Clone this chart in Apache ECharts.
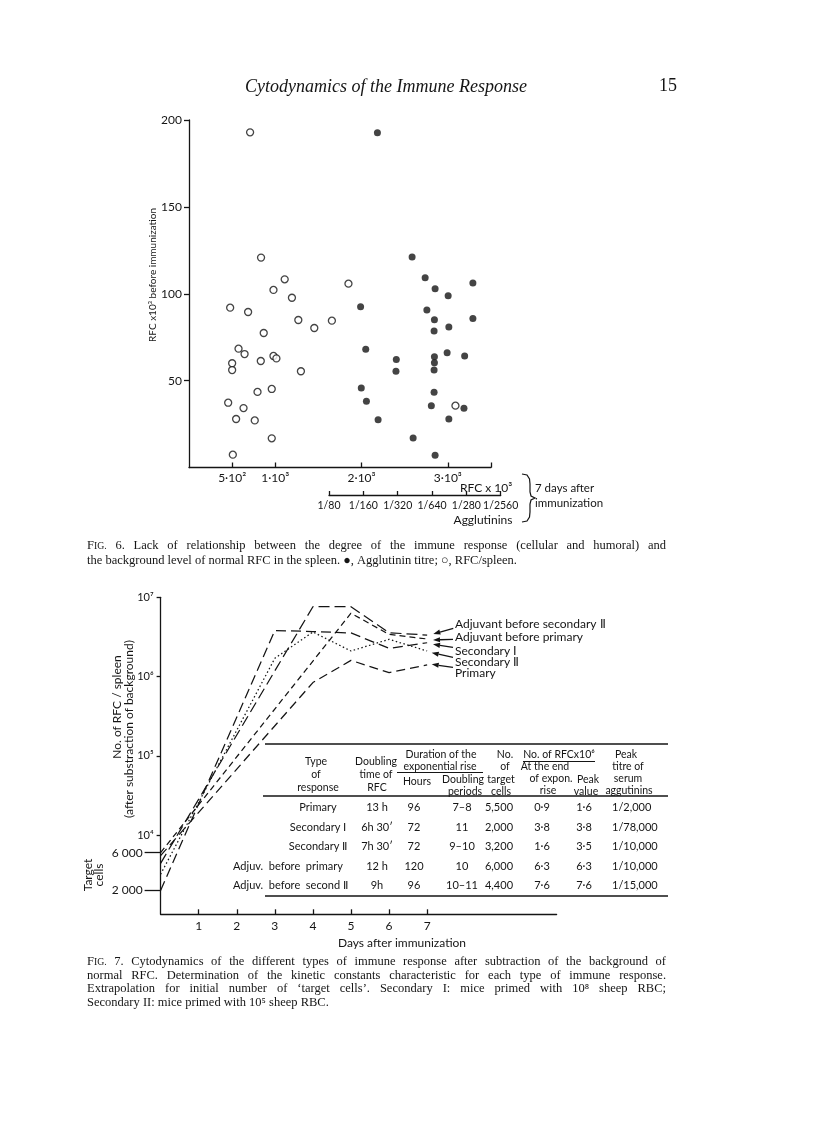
<!DOCTYPE html>
<html><head><meta charset="utf-8">
<script src="https://cdn.jsdelivr.net/npm/echarts@6/dist/echarts.min.js"></script>
<style>html,body{margin:0;padding:0;background:#fff}#c{width:816px;height:1128px}</style>
</head><body><div id="c"></div>
<script>
// ---------------- Fig. 6 data ----------------
// open circles: RFC/spleen 7 days after immunization (x) vs RFC x10^3 before immunization (y)
const fig6RfcX = [708,835,1109,979,1193,477,685,1267,1656,1452,866,574,644,500,500,832,979,1013,1297,959,794,454,632,546,762,959,508,1848,3088];
const fig6RfcY = [192.9,120.8,108.3,102.2,97.7,92.0,89.5,84.9,84.5,80.3,77.4,68.4,65.3,60.0,56.1,61.3,64.2,62.8,55.4,45.2,43.5,37.3,34.2,27.9,27.1,16.8,7.4,105.8,35.6];
// filled dots: agglutinin titre (x, in doubling steps from 1/80) vs RFC x10^3 before immunization (y)
const fig6AggX = [1.41,2.42,2.80,3.09,3.47,4.19,0.92,2.85,3.07,4.19,3.49,3.06,1.07,1.96,3.44,3.95,3.07,3.07,1.95,3.06,0.94,1.09,3.06,2.98,3.93,1.43,3.49,2.45,3.09];
const fig6AggY = [192.7,121.2,109.2,102.9,98.9,106.2,92.5,90.6,85.1,85.7,80.9,78.6,68.0,62.1,66.1,64.2,63.8,60.3,55.4,56.1,45.8,38.1,43.3,35.6,34.1,27.5,27.9,17.0,7.0];
const rfcTickValues = [500,1000,2000,3000];
const rfcTickLabels = ['5·10²','1·10³','2·10³','3·10³'];
const aggTickValues = [0,1,2,3,4,5];
const aggTickLabels = ['1/80','1/160','1/320','1/640','1/280','1/2560'];
const fig6YTicks = [50,100,150,200];

// ---------------- Fig. 7 data ----------------
const dayTicks = [1,2,3,4,5,6,7];
const logTicks = [1e4,1e5,1e6,1e7];
const logTickLabels = ['10⁴','10⁵','10⁶','10⁷'];
const targetTicks = [2000,6000];
const targetTickLabels = ['2 000','6 000'];
const primaryDays = [0,4,5,6,7];        const primaryRFC = [5500,840000,1600000,1120000,1400000];
const sec1Days = [0,3,4,5,6,7];         const sec1RFC = [2000,3800000,3700000,3550000,2270000,2670000];
const sec2Days = [0,3,4,5,6,7];         const sec2RFC = [3200,1700000,3650000,2100000,2950000,2100000];
const adjPrimDays = [0,5,6,7];          const adjPrimRFC = [6000,6300000,3400000,2980000];
const adjSec2Days = [0,4,5,6,7];        const adjSec2RFC = [4400,7600000,7600000,3570000,3340000];
const legendNames = ['Adjuvant before secondary Ⅱ','Adjuvant before primary','Secondary Ⅰ','Secondary Ⅱ','Primary'];

// table
const tblType = ['Primary','Secondary Ⅰ','Secondary Ⅱ','Adjuv.  before  primary','Adjuv.  before  second Ⅱ'];
const tblDoubling = ['13 h','6h 30ʹ','7h 30ʹ','12 h','9h'];
const tblHours = ['96','72','72','120','96'];
const tblPeriods = ['7–8','11','9–10','10','10–11'];
const tblTarget = ['5,500','2,000','3,200','6,000','4,400'];
const tblEndRise = ['0·9','3·8','1·6','6·3','7·6'];
const tblPeak = ['1·6','3·8','3·5','6·3','7·6'];
const tblTitre = ['1/2,000','1/78,000','1/10,000','1/10,000','1/15,000'];

const INK = '#151515';
const SANS = 'Lato';
const SERIF = 'Liberation Serif';

const mctx = document.createElement('canvas').getContext('2d');
function measure(s, size, fam, style){ mctx.font = (style||'normal') + ' ' + size + 'px "' + (fam||SERIF) + '"'; return mctx.measureText(s).width; }

function T(x, y, text, o){
  o = o || {};
  return {type:'text', x:x, y:y, rotation:o.rot||0, z:10,
    style:{text:text, fill:INK, fontFamily:o.fam||SANS, fontSize:o.size||11, fontStyle:o.style||'normal',
      align:o.align||'center', verticalAlign:'middle'}};
}
function L(x1,y1,x2,y2,w){ return {type:'line', z:10, shape:{x1:x1,y1:y1,x2:x2,y2:y2}, style:{stroke:INK, lineWidth:w||1.2}}; }
function arrow(x1,y1,x2,y2){
  const dx=x2-x1, dy=y2-y1, len=Math.hypot(dx,dy), ux=dx/len, uy=dy/len, hl=7, hw=2.6;
  const bx=x2-ux*hl, by=y2-uy*hl;
  return [L(x1,y1,bx,by,1.3), {type:'polygon', z:10, shape:{points:[[x2,y2],[bx-uy*hw,by+ux*hw],[bx+uy*hw,by-ux*hw]]}, style:{fill:INK}}];
}
function captionLine(line, x0, x1, y, size, justify){
  const words = line.split(' ');
  const widths = words.map(w => w==='FIG.' ? measure('F',size)+measure('IG.',size*0.78) : measure(w,size));
  const total = widths.reduce((a,b)=>a+b,0);
  const gap = (justify && words.length>1) ? (x1-x0-total)/(words.length-1) : measure(' ',size);
  let x = x0; const els = [];
  words.forEach((w,i)=>{
    if (w==='FIG.') {
      els.push({type:'text', x:x, y:y, z:10, style:{text:'{a|F}{b|IG.}', align:'left', verticalAlign:'middle',
        rich:{a:{fontFamily:SERIF,fontSize:size,fill:INK}, b:{fontFamily:SERIF,fontSize:size*0.78,fill:INK}}}});
    } else {
      els.push({type:'text', x:x, y:y, z:10, style:{text:w, fill:INK, fontFamily:SERIF, fontSize:size, align:'left', verticalAlign:'middle'}});
    }
    x += widths[i] + gap;
  });
  return els;
}

const g = [];
// page header
g.push(T(245, 87, 'Cytodynamics of the Immune Response', {fam:SERIF, size:18, style:'italic', align:'left'}));
g.push(T(659, 86, '15', {fam:SERIF, size:18, align:'left'}));

// Fig 6 annotations
g.push(T(153, 275, 'RFC x10³ before immunization', {size:10, rot:Math.PI/2}));
g.push(T(460, 488, 'RFC x 10³', {size:12, align:'left'}));
g.push(T(483, 520, 'Agglutinins', {size:12}));
g.push({type:'polyline', z:10, shape:{points:[[522,474],[527,475],[529.5,479],[530,484],[530,492],[531,496],[535,498],[531,500],[530,504],[530,512],[529.5,517],[527,521],[522,522]]}, style:{stroke:INK, fill:null, lineWidth:1.2}});
g.push(T(535, 488, '7 days after', {size:11.5, align:'left'}));
g.push(T(535, 503, 'immunization', {size:11.5, align:'left'}));
captionLine('FIG. 6. Lack of relationship between the degree of the immune response (cellular and humoral) and', 87, 666, 546, 12.5, true).forEach(e=>g.push(e));
captionLine('the background level of normal RFC in the spleen. ●, Agglutinin titre; ○, RFC/spleen.', 87, 666, 561, 12.5, false).forEach(e=>g.push(e));

// Fig 7 annotations
g.push(T(117, 707, 'No. of RFC / spleen', {size:12, rot:Math.PI/2}));
g.push(T(129, 729, '(after substraction of background)', {size:12, rot:Math.PI/2}));
g.push(T(88, 875, 'Target', {size:12, rot:Math.PI/2}));
g.push(T(99, 875, 'cells', {size:12, rot:Math.PI/2}));
g.push(T(402, 943, 'Days after immunization', {size:12}));
const legY = [624.3, 637.3, 650.7, 661.7, 673.3];
legendNames.forEach((n,i)=>g.push(T(455, legY[i], n, {size:12, align:'left'})));
[[453.3,628.3,433.3,634],[453,639.3,433,640],[453,647.3,433,644.3],[453,657.3,431.7,652.7],[453,667.3,431.7,664.3]]
  .forEach(a=>arrow(a[0],a[1],a[2],a[3]).forEach(e=>g.push(e)));

// table
g.push(L(265,744,668,744,1.3));
g.push(L(263,796,668,796,1.3));
g.push(L(265,896,668,896,1.3));
g.push(L(397,772.5,483,772.5,1));
g.push(L(523,761.5,595,761.5,1));
const hs = 10.5;
[['Type',316,762],['of',316,775],['response',318,788],
 ['Doubling',376,762],['time of',376,775],['RFC',377,788],
 ['Duration of the',441,755],['exponential rise',440,767],['Hours',417,782],['Doubling',463,780],['periods',465,792],
 ['No.',505,755],['of',505,767],['target',501,780],['cells',501,792],
 ['No. of RFCx10⁶',559,755],['At the end',545,767],['of expon.',551,779],['rise',548,791],['Peak',588,780],['value',586,792],
 ['Peak',626,755],['titre of',628,767],['serum',628,779],['aggutinins',629,791]
].forEach(h=>g.push(T(h[1],h[2],h[0],{size:hs})));
const rowY = [807, 827, 846.5, 866.5, 885.5];
const rs = 11;
rowY.forEach((y,i)=>{
  if (i<3) g.push(T(318, y, tblType[i], {size:rs}));
  else g.push(T(233, y, tblType[i], {size:rs, align:'left'}));
  g.push(T(377, y, tblDoubling[i], {size:rs}));
  g.push(T(414, y, tblHours[i], {size:rs}));
  g.push(T(462, y, tblPeriods[i], {size:rs}));
  g.push(T(499, y, tblTarget[i], {size:rs}));
  g.push(T(542, y, tblEndRise[i], {size:rs}));
  g.push(T(584, y, tblPeak[i], {size:rs}));
  g.push(T(612, y, tblTitre[i], {size:rs, align:'left'}));
});
captionLine('FIG. 7. Cytodynamics of the different types of immune response after subtraction of the background of', 87, 666, 962, 12.5, true).forEach(e=>g.push(e));
captionLine('normal RFC. Determination of the kinetic constants characteristic for each type of immune response.', 87, 666, 975.5, 12.5, true).forEach(e=>g.push(e));
captionLine('Extrapolation for initial number of ‘target cells’. Secondary I: mice primed with 10⁸ sheep RBC;', 87, 666, 989, 12.5, true).forEach(e=>g.push(e));
captionLine('Secondary II: mice primed with 10⁵ sheep RBC.', 87, 666, 1002.5, 12.5, false).forEach(e=>g.push(e));

const axLine = {onZero:false, lineStyle:{color:INK, width:1.3}};
const lab = (extra)=>Object.assign({color:INK, fontFamily:SANS, fontSize:12, showMinLabel:true, showMaxLabel:true, hideOverlap:false}, extra);
function lineSeries(name, days, vals, dash){
  return {type:'line', name:name, xAxisIndex:2, yAxisIndex:2, data:days.map((d,i)=>[d, vals[i]]),
    symbol:'none', silent:true, lineStyle:{color:INK, width:1.25, type:dash}};
}

const option = {
  animation:false,
  backgroundColor:'#fff',
  grid:[
    {left:189, top:120, width:302, height:347.5},
    {left:329, top:120, width:171.7, height:347.5},
    {left:160.6, top:597.3, width:396, height:317}
  ],
  xAxis:[
    {gridIndex:0, type:'value', min:0, max:3500, axisLine:axLine, splitLine:{show:false},
     axisTick:{inside:true, length:5, customValues:[500,1000,2000,3000,3500], lineStyle:{color:INK,width:1.3}},
     axisLabel:lab({customValues:rfcTickValues, formatter:v=>rfcTickLabels[rfcTickValues.indexOf(v)], margin:5})},
    {gridIndex:1, type:'value', min:0, max:5, interval:1, offset:27.5, axisLine:axLine, splitLine:{show:false},
     axisTick:{inside:true, length:4, customValues:aggTickValues, lineStyle:{color:INK,width:1.3}},
     axisLabel:lab({customValues:aggTickValues, formatter:v=>aggTickLabels[Math.round(v)], margin:5, fontSize:10.5})},
    {gridIndex:2, type:'value', min:0, max:10.4, axisLine:axLine, splitLine:{show:false},
     axisTick:{inside:true, length:5, customValues:dayTicks, lineStyle:{color:INK,width:1.3}},
     axisLabel:lab({customValues:dayTicks, margin:6})}
  ],
  yAxis:[
    {gridIndex:0, type:'value', min:0, max:200, axisLine:{show:true, onZero:false, lineStyle:{color:INK,width:1.3}}, splitLine:{show:false},
     axisTick:{show:true, length:5, customValues:fig6YTicks, lineStyle:{color:INK,width:1.3}},
     axisLabel:lab({customValues:fig6YTicks, margin:7})},
    {gridIndex:1, type:'value', min:0, max:200, show:false},
    {gridIndex:2, type:'log', logBase:10, min:1000, max:1e7, position:'left', axisLine:{show:true, onZero:false, lineStyle:{color:INK,width:1.3}}, splitLine:{show:false},
     axisTick:{show:true, length:4, customValues:logTicks, lineStyle:{color:INK,width:1.3}},
     axisLabel:lab({customValues:logTicks, formatter:v=>logTickLabels[logTicks.indexOf(v)], margin:7, fontSize:11})},
    {gridIndex:2, type:'log', logBase:10, min:1000, max:1e7, position:'left', axisLine:{show:false, onZero:false}, splitLine:{show:false},
     axisTick:{show:true, length:16, customValues:targetTicks, lineStyle:{color:INK,width:1.3}},
     axisLabel:lab({customValues:targetTicks, formatter:v=>targetTickLabels[targetTicks.indexOf(v)], margin:18})}
  ],
  series:[
    {type:'scatter', xAxisIndex:0, yAxisIndex:0, data:fig6RfcX.map((x,i)=>[x, fig6RfcY[i]]), symbol:'circle', symbolSize:7,
     itemStyle:{color:'#fff', borderColor:INK, borderWidth:1.3}, silent:true},
    {type:'scatter', xAxisIndex:1, yAxisIndex:1, data:fig6AggX.map((x,i)=>[x, fig6AggY[i]]), symbol:'circle', symbolSize:7,
     itemStyle:{color:INK}, silent:true},
    lineSeries(legendNames[0], adjSec2Days, adjSec2RFC, [11,5]),
    lineSeries(legendNames[1], adjPrimDays, adjPrimRFC, [6,4]),
    lineSeries(legendNames[2], sec1Days, sec1RFC, [10,5]),
    lineSeries(legendNames[3], sec2Days, sec2RFC, [1.5,2.5]),
    lineSeries(legendNames[4], primaryDays, primaryRFC, [9,5])
  ],
  graphic:{elements:g}
};
const chart = echarts.init(document.getElementById('c'), null, {renderer:'canvas', width:816, height:1128});
chart.setOption(option);
</script>
</body></html>
